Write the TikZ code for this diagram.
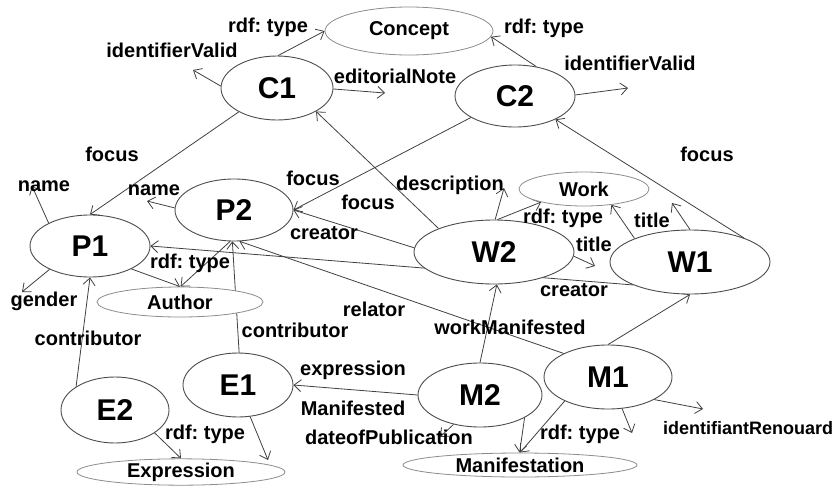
\documentclass[tikz,border=0pt]{standalone}
\usepackage{fontspec}
\setmainfont{Liberation Sans}
\frenchspacing
\usetikzlibrary{shapes.geometric,arrows.meta,backgrounds}
\begin{document}
\begin{tikzpicture}[x=1pt,y=-1pt,
  ent/.style={ellipse,draw=black!70,line width=0.9pt,fill=white,inner sep=0pt,font=\fontsize{30}{32}\selectfont\bfseries},
  cls/.style={ellipse,draw=black!45,line width=0.8pt,fill=white,inner sep=0pt,font=\fontsize{20}{22}\selectfont\bfseries},
  lbl/.style={inner sep=0pt,font=\fontsize{20}{22}\selectfont\bfseries},
  edge/.style={draw=black!75,line width=0.8pt,-{Straight Barb[length=7pt,width=12pt]}},
]
\useasboundingbox (0,0) rectangle (838,485);

% nodes
\node[cls,minimum width=168pt,minimum height=48pt] (Concept) at (409,31) {Concept};
\node[ent,minimum width=112pt,minimum height=64pt] (C1) at (277,88) {C1};
\node[ent,minimum width=120pt,minimum height=62pt] (C2) at (515,96) {C2};
\node[ent,minimum width=120pt,minimum height=62pt] (P1) at (90,246) {P1};
\node[ent,minimum width=118pt,minimum height=62pt] (P2) at (234,210) {P2};
\node[cls,minimum width=166pt,minimum height=30pt] (Author) at (180,302) {Author};
\node[cls,minimum width=130pt,minimum height=34pt] (Work) at (584,189) {Work};
\node[ent,minimum width=160pt,minimum height=64pt] (W2) at (494,252) {W2};
\node[ent,minimum width=160pt,minimum height=64pt] (W1) at (690,262) {W1};
\node[ent,minimum width=110pt,minimum height=64pt] (E1) at (238,385) {E1};
\node[ent,minimum width=108pt,minimum height=66pt] (E2) at (115,410) {E2};
\node[cls,minimum width=208pt,minimum height=24pt] (Expression) at (181,472) {Expression};
\node[ent,minimum width=124pt,minimum height=64pt] (M2) at (480,395) {M2};
\node[ent,minimum width=128pt,minimum height=64pt] (M1) at (608,377) {M1};
\node[cls,minimum width=234pt,minimum height=24pt] (Manif) at (520,465) {Manifestation};

% free ends
\coordinate (fC1id) at (193,70);
\coordinate (fC1ed) at (385,93);
\coordinate (fC2id) at (628,88);
\coordinate (fW2de) at (504,188);
\coordinate (fW2ti) at (595,266);
\coordinate (fW1ti) at (672,203);
\coordinate (fP1na) at (32,186);
\coordinate (fP1ge) at (22,292);
\coordinate (fP2na) at (147,201);
\coordinate (fE1ex) at (268,460);
\coordinate (fM2da) at (440,437);
\coordinate (fM1ty) at (632,433);
\coordinate (fM1id) at (703,409);

% labels
\node[lbl] (t1) at (268,27) {rdf: type};
\node[lbl] (t2) at (172,50) {identifierValid};
\node[lbl] (t3) at (395,76) {editorialNote};
\node[lbl] (t4) at (544,28) {rdf: type};
\node[lbl] (t5) at (630,63) {identifierValid};
\node[lbl] (t6) at (707,154) {focus};
\node[lbl] (t7) at (112,154) {focus};
\node[lbl] (t8) at (313,178) {focus};
\node[lbl] (t9) at (368,202) {focus};
\node[lbl] (t10) at (450,185) {description};
\node[lbl] (t11) at (563,218) {rdf: type};
\node[lbl] (t12) at (594,244) {title};
\node[lbl] (t13) at (652,220) {title};
\node[lbl] (t14) at (324,233) {creator};
\node[lbl] (t15) at (574,290) {creator};
\node[lbl] (t16) at (374,309) {relator};
\node[lbl] (t17) at (190,263) {rdf: type};
\node[lbl] (t18) at (44,186) {name};
\node[lbl] (t19) at (44,301) {gender};
\node[lbl] (t20) at (154,190) {name};
\node[lbl] (t21) at (295,330) {contributor};
\node[lbl] (t22) at (88,338) {contributor};
\node[lbl] (t23) at (205,434) {rdf: type};
\node[lbl] (t24) at (353,370) {expression};
\node[lbl] (t25) at (353,408) {Manifested};
\node[lbl] (t26) at (389,437) {dateofPublication};
\node[lbl] (t27) at (510,327) {workManifested};
\node[lbl] (t28) at (580,434) {rdf: type};
\node[lbl,anchor=west,font=\fontsize{18}{20}\selectfont\bfseries] (t29) at (663,428) {identifiantRenouard};

% edges
\begin{pgfonlayer}{background}
\draw[edge] (C1.88) -- (Concept.180);
\draw[edge] (C1.178) -- (fC1id);
\draw[edge] (C1.-1) -- (fC1ed);
\draw[edge] (C2.54) -- (Concept.-4);
\draw[edge] (C2.1) -- (fC2id);
\draw[edge] (W1.24) -- (C2.-30);
\draw[edge] (C1.212) -- (P1.90);
\draw[edge] (C2.206) -- (P2.0);
\draw[edge] (W2.157) -- (C1.-31);
\draw[edge] (W2.88) -- (fW2de);
\draw[edge] (W2.84) -- (Work.197);
\draw[edge] (W2.-3) -- (fW2ti);
\draw[edge] (W1.157) -- (Work.-30);
\draw[edge] (W1.90) -- (fW1ti);
\draw[edge] (W2.177) -- (P2.0);
\draw[edge] (W1.202) -- (P1.0);
\draw[edge] (P1.-29) -- (Author.90);
\draw[edge] (P2.263) -- (Author.88);
\draw[edge] (E1.88) -- (P2.267);
\draw[edge] (E2.149) -- (P1.270);
\draw[edge] (P1.151) -- (fP1na);
\draw[edge] (P1.210) -- (fP1ge);
\draw[edge] (P2.178) -- (fP2na);
\draw[edge] (E2.-30) -- (Expression.90);
\draw[edge] (E1.-69) -- (fE1ex);
\draw[edge] (M2.180) -- (E1.0);
\draw[edge] (M2.228) -- (fM2da);
\draw[edge] (M2.90) -- (W2.275);
\draw[edge] (M2.-27) -- (Manif.92);
\draw[edge] (M1.209) -- (Manif.90);
\draw[edge] (M1.294) -- (fM1ty);
\draw[edge] (M1.-26) -- (fM1id);
\draw[edge] (M1.90) -- (W1.270);
\draw[edge] (M1.152) -- (P2.280);
\end{pgfonlayer}
\end{tikzpicture}
\end{document}
